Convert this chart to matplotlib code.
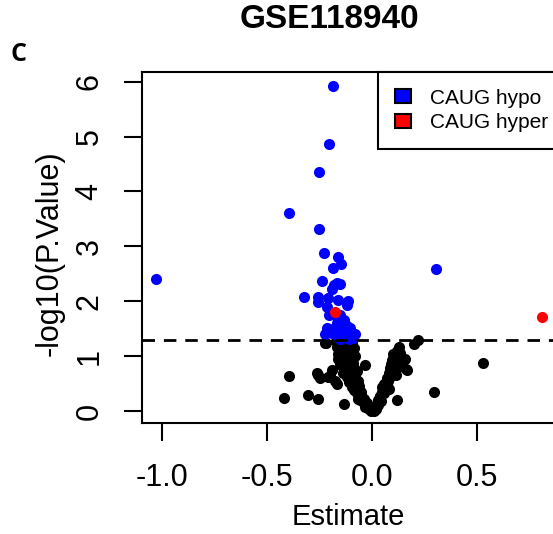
import matplotlib.pyplot as plt
from matplotlib.patches import Patch

plt.rcParams["font.family"] = ["Liberation Sans", "DejaVu Sans"]

# not significant (black)
ns_est = [
    -0.418, -0.394, -0.305, -0.257, -0.257, -0.246, -0.218, -0.19, -0.207,
    -0.167, -0.135, -0.198, -0.262, -0.032, 0.119, 0.127, 0.135, 0.159,
    0.167, 0.219, 0.201, 0.529, 0.295, 0.15, 0.163,
    -0.17, -0.15, -0.13, -0.11, -0.095, -0.16, -0.14, -0.12, -0.10, -0.085,
    -0.155, -0.135, -0.115, -0.095, -0.16, -0.14, -0.12, -0.10, -0.08,
    -0.15, -0.13, -0.11, -0.09, -0.145, -0.125, -0.105, -0.085,
    -0.13, -0.11, -0.09, -0.07, -0.12, -0.10, -0.08, -0.11, -0.09, -0.07,
    -0.095, -0.075, -0.085, -0.07, -0.06, -0.05, -0.065, -0.045, -0.056,
    -0.04, -0.03, -0.035, -0.02, -0.015, 0.0, 0.008, -0.005, 0.02, 0.015,
    0.03, 0.031, 0.045, 0.04, 0.055, 0.05, 0.065, 0.055, 0.075, 0.07,
    0.085, 0.08, 0.095, 0.087, 0.1, 0.09, 0.105, 0.095, 0.11, 0.1, 0.12,
    -0.151, -0.095, -0.222, -0.175, -0.065, -0.05,
    -0.14, -0.12, -0.10, -0.13, -0.11, -0.09, -0.12, -0.10, -0.08, -0.095,
    -0.075, -0.06, -0.08, -0.07, -0.05, -0.04, -0.025, -0.01, 0.005, 0.025,
    0.04, 0.06, 0.075, 0.09, 0.1, 0.115, 0.12, 0.105, 0.11, 0.13, 0.065,
    0.05, -0.16, -0.15, -0.14, -0.155, -0.165, 0.125, 0.115, 0.08,
]
ns_logp = [
    0.24, 0.64, 0.29, 0.21, 0.66, 0.60, 1.23, 0.75, 0.62,
    0.50, 0.12, 0.64, 0.69, 0.84, 0.20, 1.17, 1.05, 0.94,
    0.75, 1.29, 1.22, 0.88, 0.35, 0.93, 0.76,
    1.28, 1.29, 1.27, 1.28, 1.26, 1.20, 1.22, 1.18, 1.20, 1.15,
    1.12, 1.10, 1.08, 1.10, 1.03, 1.00, 1.02, 0.98, 1.00,
    0.93, 0.90, 0.92, 0.88, 0.84, 0.80, 0.82, 0.78,
    0.72, 0.70, 0.68, 0.72, 0.62, 0.60, 0.57, 0.52, 0.50, 0.48,
    0.43, 0.40, 0.38, 0.33, 0.30, 0.27, 0.22, 0.20, 0.20,
    0.15, 0.12, 0.08, 0.06, 0.04, 0.02, 0.0, 0.0, 0.03, 0.07,
    0.10, 0.20, 0.18, 0.28, 0.32, 0.44, 0.40, 0.50, 0.55, 0.60,
    0.62, 0.69, 0.72, 0.78, 0.80, 0.86, 0.86, 0.92, 0.98, 1.04, 1.10,
    1.26, 1.26, 1.24, 0.55, 0.55, 0.35,
    1.15, 1.12, 1.05, 0.95, 0.85, 0.75, 0.75, 0.65, 0.62, 0.55,
    0.52, 0.45, 0.45, 0.36, 0.28, 0.22, 0.15, 0.08, 0.04, 0.10,
    0.25, 0.42, 0.58, 0.66, 0.75, 0.90, 0.95, 1.00, 0.70, 0.85, 0.45,
    0.35, 0.95, 0.85, 0.70, 1.06, 1.16, 0.80, 0.65, 0.40,
]

# CAUG hypo (blue)
hypo_est = [
    -0.183, -0.203, -0.251, -0.394, -0.251, -0.226, -0.160, -0.146, -0.183,
    -1.027, 0.305, -0.237, -0.18, -0.15, -0.168, -0.19, -0.324, -0.257,
    -0.257, -0.21, -0.16, -0.116, -0.214, -0.119, -0.203, -0.154, -0.135,
    -0.167, -0.119, -0.214, -0.183, -0.151, -0.103, -0.08, -0.222, -0.168,
    -0.135, -0.111, -0.151, -0.09, -0.19, -0.13, -0.145, -0.16,
]
hypo_logp = [
    5.92, 4.86, 4.35, 3.61, 3.32, 2.88, 2.81, 2.68, 2.60,
    2.40, 2.59, 2.36, 2.30, 2.31, 2.34, 2.23, 2.07, 2.08,
    1.98, 2.05, 2.02, 2.01, 1.90, 1.93, 1.75, 1.75, 1.66,
    1.61, 1.55, 1.51, 1.49, 1.48, 1.51, 1.40, 1.40, 1.38,
    1.35, 1.31, 1.31, 1.33, 1.42, 1.45, 1.62, 1.70,
]

# CAUG hyper (red)
hyper_est = [-0.175, 0.81]
hyper_logp = [1.81, 1.72]

p_cut = 1.3

fig = plt.figure(figsize=(5.53, 5.34), dpi=100)
ax = fig.add_axes([142 / 553, 1 - 423 / 534, 412.4 / 553, 351 / 534])

ax.scatter(ns_est, ns_logp, s=64, color="black", linewidths=0, zorder=2)
ax.scatter(hypo_est, hypo_logp, s=64, color="blue", linewidths=0, zorder=3)
ax.scatter(hyper_est, hyper_logp, s=64, color="red", linewidths=0, zorder=4)

ax.axhline(p_cut, color="black", lw=2, dashes=(4.5, 3.2), zorder=5)

ax.set_xlim(-1.094, 0.868)
ax.set_ylim(-0.219, 6.175)
ax.set_xticks([-1.0, -0.5, 0.0, 0.5])
ax.set_xticklabels(["-1.0", "-0.5", "0.0", "0.5"])
ax.set_yticks([0, 1, 2, 3, 4, 5, 6])

for s in ax.spines.values():
    s.set_linewidth(1.5)
ax.tick_params(direction="out", length=13, width=1.5, labelsize=22)
ax.tick_params(axis="x", pad=16)
ax.tick_params(axis="y", pad=14, labelrotation=90)
for t in ax.get_yticklabels():
    t.set_va("center")

ax.set_xlabel("Estimate", fontsize=21)
ax.xaxis.set_label_coords(0.5, -(517 - 423) / 351)
ax.xaxis.label.set_va("center")
ax.set_ylabel("-log10(P.Value)", fontsize=22)
ax.yaxis.set_label_coords(-(142 - 50) / 412.4, (423 - 253) / 351)
ax.yaxis.label.set_va("center")

handles = [
    Patch(facecolor="blue", edgecolor="black", linewidth=1.5),
    Patch(facecolor="red", edgecolor="black", linewidth=1.5),
]
leg = ax.legend(
    handles, ["CAUG hypo", "CAUG hyper"],
    loc="upper right", bbox_to_anchor=(1.025, 1.0), borderaxespad=0,
    fancybox=False, edgecolor="black", framealpha=1, fontsize=15,
    handlelength=0.8, handleheight=0.65, handletextpad=0.9,
    labelspacing=0.25, borderpad=0.8,
)
leg.get_frame().set_linewidth(1.5)

fig.text(329 / 553, 1 - 20 / 534, "GSE118940", fontsize=24,
         fontweight="bold", ha="center", va="center")
fig.text(11 / 553, 1 - 61 / 534, "C", fontsize=18, fontweight="bold",
         family=["Open Sans", "DejaVu Sans"], ha="left", va="baseline")

fig.savefig("out.png", dpi=100)
